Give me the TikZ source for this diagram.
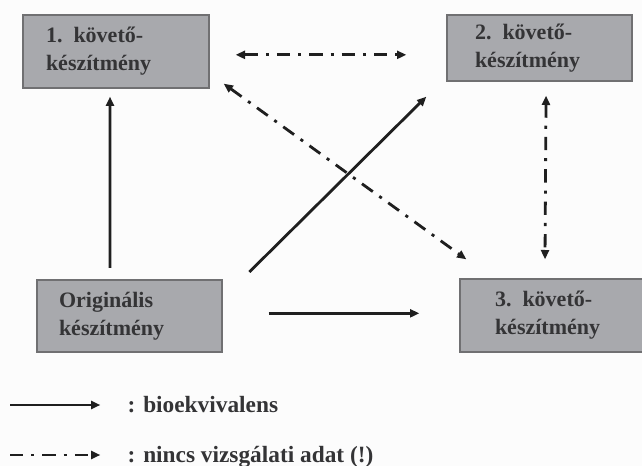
\documentclass[tikz,border=0pt]{standalone}
\usepackage{fontspec}
\setmainfont{Liberation Serif}
\usetikzlibrary{calc,positioning}
\usetikzlibrary{arrows.meta}
\definecolor{boxgray}{RGB}{168,169,173}
\definecolor{edgegray}{RGB}{112,112,114}
\definecolor{inkgray}{RGB}{52,52,54}
\definecolor{paper}{RGB}{252,252,252}

\begin{document}
\begin{tikzpicture}[x=0.75pt,y=-0.75pt,
    box/.style 2 args={draw=edgegray,fill=boxgray,line width=1pt,align=left,inner ysep=2pt,
        inner xsep=#1,text width=#2,text=inkgray,font=\bfseries\fontsize{16.5}{21}\selectfont},
    bio/.style={line width=2.1pt,draw=black!88,-{Triangle[length=7pt,width=6pt]}},
    nodata/.style={line width=2.1pt,draw=black!88,dash pattern=on 10pt off 6pt on 2.3pt off 6pt,
        -{Triangle[length=7pt,width=6pt]}},
    legend/.style={anchor=west,text=inkgray,font=\bfseries\fontsize{17.5}{21}\selectfont}]
    \useasboundingbox (0,0) rectangle (642,466);
    \clip (0,0) rectangle (642,466);
    \fill[paper] (0,0) rectangle (642,466);
    % the four preparations
    \node (kov1) [box={17.25pt}{105pt},minimum height=54.75pt] at (116,51.5) {1. követő-\\készítmény};
    \node (kov2) [box={21pt}{96.75pt},minimum height=49.5pt] at (539.5,48) {2. követő-\\készítmény};
    \node (orig) [box={16.5pt}{105.75pt},minimum height=54pt] at (129.5,316) {Originális\\készítmény};
    \node (kov3) [box={26.25pt}{97.5pt},minimum height=54.75pt] at (560,315.5) {3. követő-\\készítmény};
    % bioequivalence
    \draw[bio] ([xshift=-14.6pt,yshift=8.5pt]orig.north) -- ([xshift=-4.5pt,yshift=-6pt]kov1.south);
    \draw[bio] ([shift={(20pt,5.5pt)}]orig.north east) -- ([shift={(-15pt,-11.25pt)}]kov2.south west);
    \draw[bio,shorten <=34.5pt,shorten >=30pt] ([yshift=2pt]orig.east) -- ([yshift=2pt]orig.east -| kov3.west);
    % no data
    \draw[nodata,{Triangle[length=7pt,width=6pt]}-{Triangle[length=7pt,width=6pt]},shorten <=19.5pt,shorten >=30pt]
        ([yshift=-2.5pt]kov1.east) -- ([yshift=-2.5pt]kov1.east -| kov2.west);
    \draw[nodata,{Triangle[length=7pt,width=6pt]}-{Triangle[length=7pt,width=6pt]}]
        ([shift={(10.5pt,3.75pt)}]kov1.south east) -- ([shift={(5.25pt,14.25pt)}]kov3.north west);
    \draw[nodata,{Triangle[length=7pt,width=6pt]}-{Triangle[length=7pt,width=6pt]}]
        ([xshift=4.9pt,yshift=-10.5pt]kov2.south) -- ([xshift=-11.25pt,yshift=14.25pt]kov3.north);
    % legend
    \node (bioleg) [legend] at (123,405) {: bioekvivalens};
    \node (noleg) [legend] at (123,457) {: nincs vizsgálati adat (!)};
    \coordinate (biostart) at (10,405);
    \coordinate (nostart) at (10,455);
    \draw[bio,shorten >=17pt] (biostart) -- (biostart -| bioleg.west);
    \draw[nodata,shorten >=17pt] (nostart) -- (nostart -| noleg.west);
\end{tikzpicture}
\end{document}
